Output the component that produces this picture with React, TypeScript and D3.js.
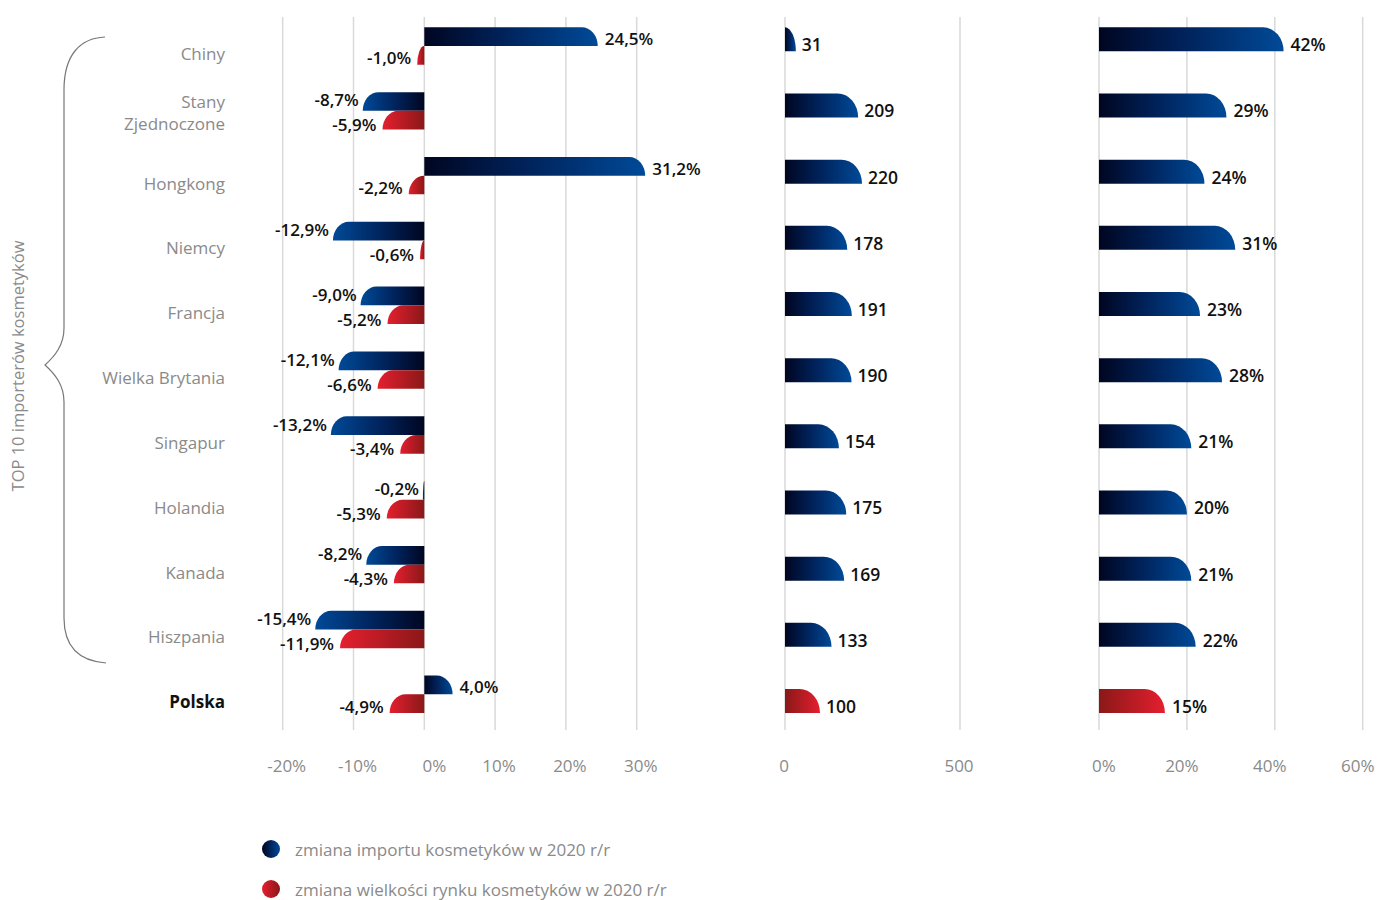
import React from "react";
import * as d3 from "d3";

const categories = ["Chiny", "Stany Zjednoczone", "Hongkong", "Niemcy", "Francja", "Wielka Brytania", "Singapur", "Holandia", "Kanada", "Hiszpania", "Polska"];
const categoryLines: string[][] = [["Chiny"], ["Stany", "Zjednoczone"], ["Hongkong"], ["Niemcy"], ["Francja"], ["Wielka Brytania"], ["Singapur"], ["Holandia"], ["Kanada"], ["Hiszpania"], ["Polska"]];
const importChange = [24.5, -8.7, 31.2, -12.9, -9.0, -12.1, -13.2, -0.2, -8.2, -15.4, 4.0];
const marketChange = [-1.0, -5.9, -2.2, -0.6, -5.2, -6.6, -3.4, -5.3, -4.3, -11.9, -4.9];
const indexValues = [31, 209, 220, 178, 191, 190, 154, 175, 169, 133, 100];
const shareValues = [42, 29, 24, 31, 23, 28, 21, 20, 21, 22, 15];
const ticks1 = [-20, -10, 0, 10, 20, 30];
const ticks2 = [0, 500];
const ticks3 = [0, 20, 40, 60];
const legendLabels = ["zmiana importu kosmetyków w 2020 r/r", "zmiana wielkości rynku kosmetyków w 2020 r/r"];
const sideLabel = "TOP 10 importerów kosmetyków";

const fmtPct1 = (v: number) => v.toFixed(1).replace(".", ",") + "%";

const x1 = d3.scaleLinear().domain([-20, 30]).range([282.7, 636.7]);
const x2 = d3.scaleLinear().domain([0, 500]).range([785, 960]);
const x3 = d3.scaleLinear().domain([0, 60]).range([1099, 1362.7]);
const y1 = d3.scalePoint<string>().domain(categories).range([46, 694.3]);
const y2 = d3.scalePoint<string>().domain(categories).range([27.3, 689]);

const GRID_TOP = 17;
const GRID_BOTTOM = 730;
const H1 = 18.7;
const H2 = 24;

function barPath(x0: number, xe: number, t: number, h: number) {
  const w = Math.abs(xe - x0);
  const rx = Math.min(0.85 * h, w);
  const ry = h;
  if (w < 0.01) return "";
  if (xe >= x0) {
    return `M${x0},${t + h}L${x0},${t}L${xe - rx},${t}A${rx},${ry} 0 0 1 ${xe},${t + ry}L${xe},${t + h}Z`;
  }
  return `M${x0},${t + h}L${x0},${t}L${xe + rx},${t}A${rx},${ry} 0 0 0 ${xe},${t + ry}L${xe},${t + h}Z`;
}

const labelFont = "'Open Sans', 'DejaVu Sans', sans-serif";
const GRAY = "#8a8a8a";
const GRID = "#d9d9d9";
const VAL_FS = 17.5;
const VAL_FS1 = 17;

export default function App() {
  return (
    <svg width={1377} height={900} style={{ position: "absolute", left: 0, top: 0 }} fontFamily={labelFont}>
      <defs>
        <linearGradient id="blueR" x1="0" x2="1" y1="0" y2="0">
          <stop offset="0" stopColor="#000621" />
          <stop offset="0.45" stopColor="#00225a" />
          <stop offset="1" stopColor="#004a98" />
        </linearGradient>
        <linearGradient id="blueL" x1="1" x2="0" y1="0" y2="0">
          <stop offset="0" stopColor="#000621" />
          <stop offset="0.45" stopColor="#00225a" />
          <stop offset="1" stopColor="#004a98" />
        </linearGradient>
        <linearGradient id="redR" x1="0" x2="1" y1="0" y2="0">
          <stop offset="0" stopColor="#8a1818" />
          <stop offset="1" stopColor="#e41f2f" />
        </linearGradient>
        <linearGradient id="redL" x1="1" x2="0" y1="0" y2="0">
          <stop offset="0" stopColor="#8a1818" />
          <stop offset="1" stopColor="#e41f2f" />
        </linearGradient>
      </defs>
      <rect x={0} y={0} width={1377} height={900} fill="#fff" />

      {/* gridlines */}
      {ticks1.map((t) => (
        <line key={"g1" + t} x1={x1(t)} x2={x1(t)} y1={GRID_TOP} y2={GRID_BOTTOM} stroke={GRID} strokeWidth={1.5} />
      ))}
      {ticks2.map((t) => (
        <line key={"g2" + t} x1={x2(t)} x2={x2(t)} y1={GRID_TOP} y2={GRID_BOTTOM} stroke={GRID} strokeWidth={1.5} />
      ))}
      {ticks3.map((t) => (
        <line key={"g3" + t} x1={x3(t)} x2={x3(t)} y1={GRID_TOP} y2={GRID_BOTTOM} stroke={GRID} strokeWidth={1.5} />
      ))}

      {/* tick labels */}
      {ticks1.map((t) => (
        <text key={"t1" + t} x={x1(t) + (t === 0 ? 10 : 4)} y={772} textAnchor="middle" fontSize={17} fill={GRAY}>
          {t + "%"}
        </text>
      ))}
      {ticks2.map((t) => (
        <text key={"t2" + t} x={x2(t) - 1} y={772} textAnchor="middle" fontSize={17} fill={GRAY}>
          {t}
        </text>
      ))}
      {ticks3.map((t) => (
        <text key={"t3" + t} x={x3(t) + (t === 0 ? 5 : -5)} y={772} textAnchor="middle" fontSize={17} fill={GRAY}>
          {t + "%"}
        </text>
      ))}

      {/* category labels */}
      {categories.map((c, i) => {
        const lines = categoryLines[i];
        const isPl = c === "Polska";
        const lh = 22;
        const cy = (y1(c) as number) + (lines.length > 1 ? 2 : 8);
        const start = cy - ((lines.length - 1) * lh) / 2;
        return (
          <text key={"c" + c} textAnchor="end" fontSize={17} fill={isPl ? "#111" : GRAY} fontWeight={isPl ? 700 : 400}>
            {lines.map((l, j) => (
              <tspan key={j} x={225} y={start + j * lh + 6}>
                {l}
              </tspan>
            ))}
          </text>
        );
      })}

      {/* panel 1 bars */}
      {categories.map((c, i) => {
        const mid = y1(c) as number;
        const zero = x1(0);
        const vi = importChange[i];
        const vm = marketChange[i];
        const xi = x1(vi);
        const xm = x1(vm);
        const sameSide = vi < 0 && vm < 0;
        return (
          <g key={"p1" + c}>
            <path d={barPath(zero, xi, mid - H1, H1)} fill={vi >= 0 ? "url(#blueR)" : "url(#blueL)"} />
            <path d={barPath(zero, xm, mid, H1)} fill={vm >= 0 ? "url(#redR)" : "url(#redL)"} />
            <text
              x={vi >= 0 ? xi + 7 : xi - 4}
              y={mid - H1 / 2 + (sameSide ? -1.5 : 2)}
              dominantBaseline="central"
              textAnchor={vi >= 0 ? "start" : "end"}
              fontSize={VAL_FS1}
              fontWeight={600}
              fill="#111"
            >
              {fmtPct1(vi)}
            </text>
            <text
              x={vm >= 0 ? xm + 7 : xm - 6}
              y={mid + H1 / 2 + (sameSide ? 4.5 : 2.5)}
              dominantBaseline="central"
              textAnchor={vm >= 0 ? "start" : "end"}
              fontSize={VAL_FS1}
              fontWeight={600}
              fill="#111"
            >
              {fmtPct1(vm)}
            </text>
          </g>
        );
      })}

      {/* panel 2 bars */}
      {categories.map((c, i) => {
        const top = y2(c) as number;
        const isPl = c === "Polska";
        const xe = x2(indexValues[i]);
        return (
          <g key={"p2" + c}>
            <path d={barPath(x2(0), xe, top, H2)} fill={isPl ? "url(#redR)" : "url(#blueR)"} />
            <text x={xe + 6} y={top + H2 / 2 + 5} dominantBaseline="central" fontSize={VAL_FS} fontWeight={600} fill="#111">
              {indexValues[i]}
            </text>
          </g>
        );
      })}

      {/* panel 3 bars */}
      {categories.map((c, i) => {
        const top = y2(c) as number;
        const isPl = c === "Polska";
        const xe = x3(shareValues[i]);
        return (
          <g key={"p3" + c}>
            <path d={barPath(x3(0), xe, top, H2)} fill={isPl ? "url(#redR)" : "url(#blueR)"} />
            <text x={xe + 7} y={top + H2 / 2 + 5} dominantBaseline="central" fontSize={VAL_FS} fontWeight={600} fill="#111">
              {shareValues[i] + "%"}
            </text>
          </g>
        );
      })}

      {/* brace */}
      <path
        d="M105,37 C80,38 64,55 64,90 L64,328 C64,345 55,356 45,365 C55,374 64,385 64,402 L64,618 C64,648 80,661 106,663"
        fill="none"
        stroke="#777"
        strokeWidth={1.2}
      />
      <text
        transform="translate(24,366) rotate(-90)"
        textAnchor="middle"
        fontSize={16.5}
        fill={GRAY}
      >
        {sideLabel}
      </text>

      {/* legend */}
      {legendLabels.map((l, i) => (
        <g key={"lg" + i}>
          <circle cx={271} cy={849 + i * 40} r={9} fill={i === 0 ? "url(#blueR)" : "url(#redL)"} />
          <text x={295} y={849 + i * 40} dominantBaseline="central" fontSize={17} fill={GRAY}>
            {l}
          </text>
        </g>
      ))}
    </svg>
  );
}
